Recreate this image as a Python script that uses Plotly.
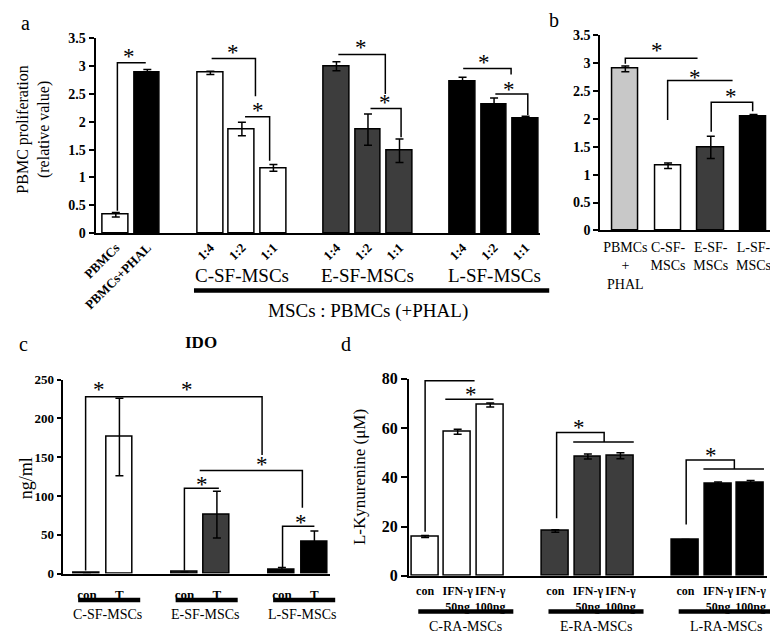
import plotly.graph_objects as go

SERIF = "Liberation Serif, Times New Roman, serif"
# the page body has an 8px margin; the figure is sized so that the visible
# 778x641 window shows it like the reference
OFF = 8
W, H = 770, 633

# ---- panel a: PBMC proliferation
a_ticks = ["PBMCs", "PBMCs+PHAL", "1:4", "1:2", "1:1", "1:4", "1:2", "1:1", "1:4", "1:2", "1:1"]
a_vals = [0.33, 2.89, 2.88, 1.87, 1.17, 3.00, 1.86, 1.48, 2.73, 2.31, 2.06]
a_err = [0.04, 0.05, 0.03, 0.12, 0.06, 0.08, 0.28, 0.21, 0.07, 0.12, 0.04]
a_groups = ["C-SF-MSCs", "E-SF-MSCs", "L-SF-MSCs"]

# ---- panel b
b_ticks = ["PBMCs<br>+<br>PHAL", "C-SF-<br>MSCs", "E-SF-<br>MSCs", "L-SF-<br>MSCs"]
b_vals = [2.90, 1.16, 1.49, 2.05]
b_err = [0.05, 0.05, 0.20, 0.03]

# ---- panel c: IDO (ng/ml)
c_ticks = ["con", "T", "con", "T", "con", "T"]
c_vals = [1, 176, 2, 76, 5, 41]
c_err = [0, 50, 0, 30, 3, 14]
c_groups = ["C-SF-MSCs", "E-SF-MSCs", "L-SF-MSCs"]

# ---- panel d: L-Kynurenine (uM)
d_ticks = ["con", "IFN-γ<br>50ng", "IFN-γ<br>100ng"] * 3
d_vals = [16.0, 58.5, 69.3, 18.2, 48.4, 48.7, 14.7, 37.2, 37.8]
d_err = [0.4, 1.0, 0.8, 0.5, 1.0, 1.2, 0, 0.9, 0.9]
d_groups = ["C-RA-MSCs", "E-RA-MSCs", "L-RA-MSCs"]

WHITE, DARK, BLACK, GREY = "white", "#3d3d3d", "black", "#c8c8c8"

# layout of each panel (positions on numeric x axes)
a_x = [0, 1, 3, 4, 5, 7, 8, 9, 11, 12, 13]
a_col = [WHITE, BLACK] + [WHITE] * 3 + [DARK] * 3 + [BLACK] * 3
b_x = [0, 1, 2, 3]
b_col = [GREY, WHITE, DARK, BLACK]
c_x = [0, 1, 3, 4, 6, 7]
c_col = [WHITE, WHITE, DARK, DARK, BLACK, BLACK]
d_x = [0, 1, 2, 4, 5, 6, 8, 9, 10]
d_col = [WHITE] * 3 + [DARK] * 3 + [BLACK] * 3

# pixel boxes (in the 778x641 window) and ranges of each panel
panels = {
    "a": dict(xd=[83, 536], yd=[231, 31], xr=[-0.64, 13.47], yr=[0, 3.5]),
    "b": dict(xd=[597, 777], yd=[228.3, 28], xr=[-0.586, 3.55], yr=[0, 3.5]),
    "c": dict(xd=[49.3, 321.7], yd=[581, 381.7], xr=[-0.75, 7.48], yr=[0, 250]),
    "d": dict(xd=[402, 766.7], yd=[583.3, 380.7], xr=[-0.5, 10.5], yr=[0, 80]),
}


def px(x):
    return (x - OFF) / W


def yp(py):
    return 1 - (py - OFF) / H


def xp(p, x):
    d = panels[p]
    f = (x - d["xr"][0]) / (d["xr"][1] - d["xr"][0])
    return px(d["xd"][0] + f * (d["xd"][1] - d["xd"][0]))


fig = go.Figure()
ax_ids = {"a": ("x", "y"), "b": ("x2", "y2"), "c": ("x3", "y3"), "d": ("x4", "y4")}
bar_sets = [
    ("a", a_x, a_vals, a_err, a_col, 0.81),
    ("b", b_x, b_vals, b_err, b_col, 0.61),
    ("c", c_x, c_vals, c_err, c_col, 0.8),
    ("d", d_x, d_vals, d_err, d_col, 0.82),
]
for p, xs, vs, es, cols, w in bar_sets:
    xa, ya = ax_ids[p]
    fig.add_trace(go.Bar(
        x=xs, y=vs, width=w, xaxis=xa, yaxis=ya,
        marker=dict(color=cols, line=dict(color="black", width=1.5)),
        error_y=dict(type="data", array=es, color="black", thickness=1.5, width=4),
        showlegend=False, hoverinfo="skip",
    ))


def yaxis(p, dtick, size, ticklen=5):
    d = panels[p]
    return dict(domain=[yp(d["yd"][0]), yp(d["yd"][1])], range=d["yr"], dtick=dtick,
                showline=True, linecolor="black", linewidth=2, ticks="outside",
                ticklen=ticklen, tickwidth=1.5, tickcolor="black", showgrid=False, zeroline=False,
                tickfont=dict(family=SERIF, size=size, color="black", weight="bold"))


def xaxis(p, vals, text, size, bold=True, angle=0, gap=0):
    d = panels[p]
    # invisible ticks push the labels down from the axis line
    return dict(domain=[px(d["xd"][0]), px(d["xd"][1])], range=d["xr"],
                tickvals=vals, ticktext=text, tickangle=angle,
                showline=True, linecolor="black", linewidth=2,
                ticks="outside" if gap else "", ticklen=max(gap, 1), tickcolor="rgba(0,0,0,0)",
                showgrid=False, zeroline=False,
                tickfont=dict(family=SERIF, size=size, color="black",
                              weight="bold" if bold else "normal"))


fig.update_layout(
    width=W, height=H, margin=dict(l=0, r=0, t=0, b=0),
    plot_bgcolor="white", paper_bgcolor="white", bargap=0,
    xaxis=dict(xaxis("a", a_x, a_ticks, 13, angle=-45), anchor="y"),
    yaxis=dict(yaxis("a", 0.5, 14), anchor="x"),
    xaxis2=dict(xaxis("b", b_x, b_ticks, 14, bold=False, gap=3), anchor="y2"),
    yaxis2=dict(yaxis("b", 0.5, 14), anchor="x2"),
    xaxis3=dict(xaxis("c", c_x, c_ticks, 13, gap=8), anchor="y3"),
    yaxis3=dict(yaxis("c", 50, 13, ticklen=4), anchor="x3"),
    xaxis4=dict(xaxis("d", d_x, d_ticks, 12, gap=3), anchor="y4"),
    yaxis4=dict(yaxis("d", 20, 16, ticklen=6), anchor="x4"),
)

# significance brackets (data coords)
brackets = {
    "a": [[(0.05, 0.40), (0.05, 3.06), (0.95, 3.06)],
          [(3.04, 3.14), (4.43, 3.14), (4.43, 2.46)],
          [(4.10, 2.09), (4.88, 2.09), (4.88, 1.30)],
          [(7.06, 3.21), (8.55, 3.21), (8.55, 2.50)],
          [(8.08, 2.24), (9.05, 2.24), (9.05, 1.72)],
          [(11.02, 2.96), (12.54, 2.96), (12.54, 2.85)],
          [(12.04, 2.50), (13.07, 2.50), (13.07, 2.12)]],
    "b": [[(0, 2.99), (0, 3.09), (1.69, 3.09)],
          [(0.99, 1.98), (0.99, 2.69), (2.51, 2.69)],
          [(2.01, 1.77), (2.01, 2.30), (2.98, 2.30), (2.98, 2.14)]],
    "c": [[(-0.04, 4), (-0.04, 228), (5.39, 228), (5.39, 153)],
          [(3.47, 133), (6.63, 133), (6.63, 85)],
          [(3.0, 4), (3.0, 110), (4.06, 110)],
          [(6.02, 8), (6.02, 61), (7.0, 61)]],
    "d": [[(0, 17.9), (0, 79.2), (1.52, 79.2)],
          [(0.62, 71.7), (2.1, 71.7)],
          [(4.04, 23.4), (4.04, 58.2), (5.5, 58.2), (5.5, 54.3)],
          [(4.55, 54.3), (6.41, 54.3)],
          [(8.02, 20.8), (8.02, 47.0), (9.5, 47.0), (9.5, 43.4)],
          [(8.55, 43.4), (10.41, 43.4)]],
}
stars = {
    "a": [(0.42, 3.25), (3.72, 3.31), (4.5, 2.28), (7.77, 3.41), (8.55, 2.42), (11.69, 3.13), (12.47, 2.66)],
    "b": [(0.75, 3.31), (1.64, 2.82), (2.47, 2.47)],
    "c": [(0.36, 242), (3.07, 242), (5.39, 146), (3.53, 120), (6.6, 71)],
    "d": [(0.79, 82.9), (1.4, 75.2), (4.72, 61.8), (8.77, 50.6)],
}

shapes = []
annotations = []
for p, lst in brackets.items():
    xa, ya = ax_ids[p]
    for pts in lst:
        path = "M " + " L ".join(f"{x},{y}" for x, y in pts)
        shapes.append(dict(type="path", path=path, xref=xa, yref=ya,
                           line=dict(color="black", width=1.5)))
for p, lst in stars.items():
    xa, ya = ax_ids[p]
    for x, y in lst:
        annotations.append(dict(x=x, y=y, xref=xa, yref=ya, text="*", showarrow=False,
                                xanchor="center", yanchor="middle", yshift=-4,
                                font=dict(family=SERIF, size=23, color="black")))


def text(xpx, ypx, s, size, bold=False, angle=0, family=SERIF):
    annotations.append(dict(x=px(xpx), y=yp(ypx), xref="paper", yref="paper", text=s,
                            showarrow=False, textangle=angle,
                            xanchor="center", yanchor="middle",
                            font=dict(family=family, size=size, color="black",
                                      weight="bold" if bold else "normal")))


def gtext(p, xval, ypx, s, size):
    annotations.append(dict(x=xp(p, xval), y=yp(ypx), xref="paper", yref="paper", text=s,
                            showarrow=False, xanchor="center", yanchor="middle",
                            font=dict(family=SERIF, size=size, color="black")))


def underline(p, x0, x1, ypx, width):
    shapes.append(dict(type="line", xref="paper", yref="paper", x0=xp(p, x0), x1=xp(p, x1),
                       y0=yp(ypx), y1=yp(ypx), line=dict(color="black", width=width)))


# panel a group labels
for g, cx in zip(a_groups, [4, 8, 12]):
    gtext("a", cx, 275, g, 19)
underline("a", 2.48, 13.75, 290, 4.5)
gtext("a", 8, 311, "MSCs : PBMCs (+PHAL)", 19)
text(20, 125, "PBMC proliferation<br>(relative value)", 16, angle=-90)

# panel c
for g, st in zip(c_groups, [0, 3, 6]):
    underline("c", st - 0.27, st + 1.64, 608, 4.5)
    gtext("c", st + 0.63, 623, g, 14)
text(190, 343, "IDO", 17, bold=True)
text(12, 483, "ng/ml", 18, angle=-90)

# panel d
for g, st in zip(d_groups, [0, 4, 8]):
    underline("d", st - 0.21, st + 2.71, 620, 4.5)
    gtext("d", st + 1.25, 635, g, 14)
text(352, 482, "L-Kynurenine (μM)", 17, angle=-90)

# panel letters
text(12, 15, "a", 20)
text(550, 12, "b", 20)
text(10, 345, "c", 20)
text(338, 345, "d", 20)

fig.update_layout(shapes=shapes, annotations=annotations)
fig.write_html("out.html")
